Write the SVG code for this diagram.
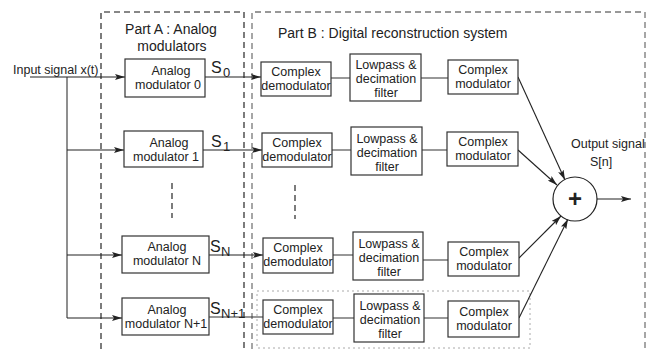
<svg xmlns="http://www.w3.org/2000/svg" width="659" height="349" viewBox="0 0 659 349">
<defs>
<marker id="ar" markerWidth="10" markerHeight="6" refX="10" refY="3" orient="auto" markerUnits="userSpaceOnUse">
<path d="M0,0 L10,3 L0,6 L2,3 Z" fill="#222"/>
</marker>
<style>
text{font-family:"Liberation Sans",Arial,sans-serif;fill:#222}
.box{fill:#fff;stroke:#333;stroke-width:1.2}
.t11{font-size:12.5px;text-anchor:middle}
.t12{font-size:12.5px;text-anchor:middle}
.ln{stroke:#333;stroke-width:1.1;fill:none}
.arr{stroke:#222;stroke-width:1.1;fill:none;marker-end:url(#ar)}
.dashA{stroke:#111;stroke-width:1.1;stroke-dasharray:6,4;fill:none}
.dashB{stroke:#777;stroke-width:1.3;stroke-dasharray:6,4;fill:none}
.big{font-size:14px}
.S{font-size:16px}
.sub{font-size:13px}
</style>
</defs>
<rect width="659" height="349" fill="#fff"/>

<g id="partA">
<path class="dashA" d="M101,349 V12 H244 V349"/>
<text class="big" x="171" y="34" text-anchor="middle">Part A : Analog</text>
<text class="big" x="172" y="51" text-anchor="middle">modulators</text>
</g>
<g id="partB">
<path class="dashB" d="M252,349 V12 H645 V349"/>
<text class="big" x="278" y="38">Part B : Digital reconstruction system</text>
</g>
<g id="groupN1">
<rect x="257" y="291" width="273" height="57" fill="none" stroke="#aaa" stroke-width="1" stroke-dasharray="2,3"/>
</g>

<g id="input"><text x="13" y="74" font-size="12.5">Input signal x(t)</text></g>

<g id="connectors">
<path class="arr" d="M30,77 H125"/>
<path class="ln" d="M67,77 V318"/>
<path class="arr" d="M67,150 H124"/>
<path class="arr" d="M67,255 H122"/>
<path class="arr" d="M67,318 H122"/>
<path class="arr" d="M205,77 H261"/>
<path class="arr" d="M203,150 H262"/>
<path class="arr" d="M209,255 H263"/>
<path class="ln" d="M209,317 H263"/>
<path class="ln" d="M331,78 H350 M421,78 H448"/>
<path class="ln" d="M332,150 H351 M422,150 H447"/>
<path class="ln" d="M333,255 H353 M423,260 H448"/>
<path class="ln" d="M333,318 H354 M424,318 H448"/>
<path class="arr" d="M518,77 L565,180"/>
<path class="arr" d="M518,150 L557,185"/>
<path class="arr" d="M519,258 L561,216"/>
<path class="arr" d="M519,318 L568,219"/>
<path class="arr" d="M597,199 H631"/>
<path class="dashA" d="M172,183 V218"/>
<path class="dashA" d="M295,185 V219"/>
</g>

<g id="slabels">
<text class="S" x="211" y="73">S</text><text class="sub" x="223" y="77">0</text>
<text class="S" x="211" y="147">S</text><text class="sub" x="223" y="151">1</text>
<text class="S" x="210" y="252">S</text><text class="sub" x="221" y="256">N</text>
<text class="S" x="210" y="314">S</text><text class="sub" x="221" y="318">N+1</text>
</g>

<g id="am0"><rect class="box" x="125" y="59" width="80" height="38"/><text class="t11" x="171" y="75">Analog</text><text class="t11" x="168" y="89">modulator 0</text></g>
<g id="am1"><rect class="box" x="124" y="131" width="79" height="36"/><text class="t11" x="169" y="147">Analog</text><text class="t11" x="166" y="161">modulator 1</text></g>
<g id="amN"><rect class="box" x="122" y="236" width="87" height="37"/><text class="t11" x="167" y="251">Analog</text><text class="t11" x="167" y="265">modulator N</text></g>
<g id="amN1"><rect class="box" x="122" y="298" width="87" height="37"/><text class="t11" x="167" y="314">Analog</text><text class="t11" x="166" y="328">modulator N+1</text></g>

<g id="cd0"><rect class="box" x="261" y="62" width="70" height="34"/><text class="t12" x="296" y="76">Complex</text><text class="t12" x="296" y="90">demodulator</text></g>
<g id="cd1"><rect class="box" x="262" y="133" width="70" height="34"/><text class="t12" x="297" y="147">Complex</text><text class="t12" x="297" y="161">demodulator</text></g>
<g id="cdN"><rect class="box" x="263" y="238" width="70" height="35"/><text class="t12" x="298" y="252">Complex</text><text class="t12" x="298" y="266">demodulator</text></g>
<g id="cdN1"><rect class="box" x="263" y="300" width="70" height="34"/><text class="t12" x="298" y="314">Complex</text><text class="t12" x="298" y="328">demodulator</text></g>

<g id="lp0"><rect class="box" x="350" y="54" width="71" height="47"/><text class="t12" x="386" y="69">Lowpass &amp;</text><text class="t12" x="386" y="83">decimation</text><text class="t12" x="386" y="97">filter</text></g>
<g id="lp1"><rect class="box" x="351" y="127" width="71" height="48"/><text class="t12" x="387" y="143">Lowpass &amp;</text><text class="t12" x="387" y="157">decimation</text><text class="t12" x="387" y="171">filter</text></g>
<g id="lpN"><rect class="box" x="353" y="232" width="70" height="48"/><text class="t12" x="389" y="248">Lowpass &amp;</text><text class="t12" x="389" y="262">decimation</text><text class="t12" x="389" y="276">filter</text></g>
<g id="lpN1"><rect class="box" x="354" y="294" width="70" height="48"/><text class="t12" x="390" y="310">Lowpass &amp;</text><text class="t12" x="390" y="324">decimation</text><text class="t12" x="390" y="338">filter</text></g>

<g id="cm0"><rect class="box" x="448" y="60" width="70" height="34"/><text class="t12" x="483" y="74">Complex</text><text class="t12" x="483" y="88">modulator</text></g>
<g id="cm1"><rect class="box" x="447" y="132" width="71" height="34"/><text class="t12" x="483" y="146">Complex</text><text class="t12" x="483" y="160">modulator</text></g>
<g id="cmN"><rect class="box" x="448" y="242" width="71" height="34"/><text class="t12" x="484" y="256">Complex</text><text class="t12" x="484" y="270">modulator</text></g>
<g id="cmN1"><rect class="box" x="448" y="301" width="71" height="36"/><text class="t12" x="484" y="316">Complex</text><text class="t12" x="484" y="330">modulator</text></g>

<g id="sum"><circle cx="575" cy="199" r="22" fill="#fff" stroke="#222" stroke-width="1.2"/><text x="575" y="207" font-size="24" font-weight="bold" text-anchor="middle">+</text></g>
<g id="output"><text x="571" y="148" font-size="12.5">Output signal</text><text x="590" y="166" font-size="12.5">S[n]</text></g>
</svg>
